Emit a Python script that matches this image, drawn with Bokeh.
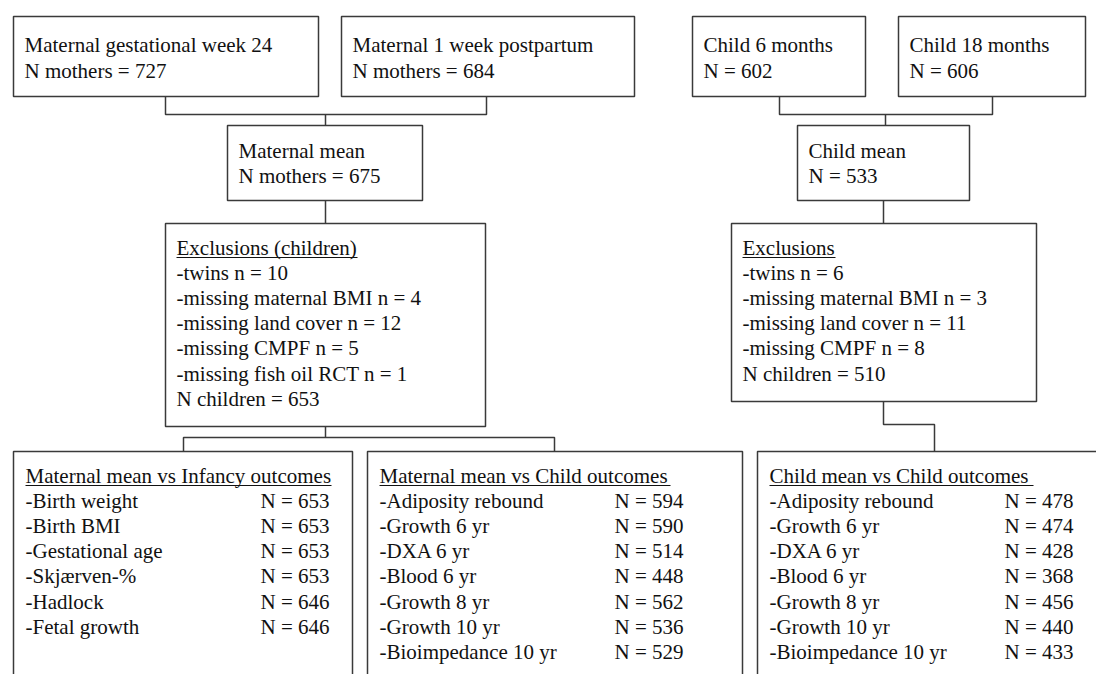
from bokeh.plotting import figure
from bokeh.models import Range1d
from bokeh.core.properties import value
from bokeh.embed import file_html
from bokeh.resources import INLINE

# ---------------- data ----------------
top_titles = ["Maternal gestational week 24", "Maternal 1 week postpartum", "Child 6 months", "Child 18 months"]
top_labels = ["N mothers", "N mothers", "N", "N"]
top_n = [727, 684, 602, 606]

mean_titles = ["Maternal mean", "Child mean"]
mean_labels = ["N mothers", "N"]
mean_n = [675, 533]

mat_excl_title = "Exclusions (children)"
mat_excl_items = ["twins", "missing maternal BMI", "missing land cover", "missing CMPF", "missing fish oil RCT"]
mat_excl_n = [10, 4, 12, 5, 1]
mat_children_n = 653

child_excl_title = "Exclusions"
child_excl_items = ["twins", "missing maternal BMI", "missing land cover", "missing CMPF"]
child_excl_n = [6, 3, 11, 8]
child_children_n = 510

out_titles = ["Maternal mean vs Infancy outcomes", "Maternal mean vs Child outcomes", "Child mean vs Child outcomes"]
infancy_outcomes = ["Birth weight", "Birth BMI", "Gestational age", "Skjærven-%", "Hadlock", "Fetal growth"]
infancy_n = [653, 653, 653, 653, 646, 646]
child_outcomes = ["Adiposity rebound", "Growth 6 yr", "DXA 6 yr", "Blood 6 yr", "Growth 8 yr", "Growth 10 yr", "Bioimpedance 10 yr"]
mat_child_n = [594, 590, 514, 448, 562, 536, 529]
child_child_n = [478, 474, 428, 368, 456, 440, 433]

# ---------------- layout (picture pixel coordinates) ----------------
FONT = value("Liberation Serif")
FS = "21px"
LINE_C = "#3a3a3a"
TXT_C = "#111111"
STEP = 25.2
PAD = 11
VALCOL = 247
TY = -7  # baseline correction for text placement

boxes = {
    "top0": (13, 16, 318, 96),
    "top1": (341, 16, 634, 96),
    "top2": (692, 16, 865, 96),
    "top3": (898, 16, 1085, 96),
    "mmean": (227, 125, 422, 200),
    "cmean": (797, 125, 969, 200),
    "mexcl": (165, 223, 485, 426),
    "cexcl": (731, 223, 1036, 401),
    "out0": (13, 451, 352, 700),
    "out1": (367, 451, 742, 700),
    "out2": (757, 451, 1110, 700),
}
underline_w = {"mexcl": 181, "cexcl": 93, "out0": 306, "out1": 291, "out2": 264}

p = figure(width=1096, height=674, output_backend="svg", toolbar_location=None,
           x_range=Range1d(0, 1096), y_range=Range1d(674, 0),
           min_border=0, outline_line_color=None, background_fill_color="white")
p.axis.visible = False
p.grid.visible = False

names = list(boxes)
p.quad(left=[boxes[n][0] for n in names], top=[boxes[n][1] for n in names],
       right=[boxes[n][2] for n in names], bottom=[boxes[n][3] for n in names],
       fill_color="white", line_color=LINE_C, line_width=1.5)

xs, ys = [], []
j1 = 114
a, b, c = 165, 486, 325
xs += [[a, a, b, b], [c, c]]
ys += [[96, j1, j1, 96], [j1, 125]]
a, b, c = 779, 992, 885
xs += [[a, a, b, b], [c, c]]
ys += [[96, j1, j1, 96], [j1, 125]]
xs += [[325, 325], [883, 883]]
ys += [[200, 223], [200, 223]]
xs += [[325, 325], [183, 183, 554, 554]]
ys += [[426, 437], [451, 437, 437, 451]]
xs += [[883, 883, 934, 934]]
ys += [[401, 424, 424, 451]]
p.multi_line(xs=xs, ys=ys, line_color=LINE_C, line_width=1.5)

tx, ty, tt = [], [], []
for i in range(4):
    b = boxes["top%d" % i]
    tx += [b[0] + PAD, b[0] + PAD]
    ty += [51 + TY, 77 + TY]
    tt += [top_titles[i], "%s = %d" % (top_labels[i], top_n[i])]
for name, t, l, n in zip(["mmean", "cmean"], mean_titles, mean_labels, mean_n):
    b = boxes[name]
    tx += [b[0] + PAD, b[0] + PAD]
    ty += [157 + TY, 182 + TY]
    tt += [t, "%s = %d" % (l, n)]
ux0, ux1, uy = [], [], []
for name, title, items, ns, nc in [("mexcl", mat_excl_title, mat_excl_items, mat_excl_n, mat_children_n),
                                   ("cexcl", child_excl_title, child_excl_items, child_excl_n, child_children_n)]:
    b = boxes[name]
    x0 = b[0] + PAD
    lines = [title] + ["-%s n = %d" % (it, n) for it, n in zip(items, ns)] + ["N children =  %d" % nc]
    for k, s in enumerate(lines):
        tx.append(x0)
        ty.append(254 + k * STEP + TY)
        tt.append(s)
    ux0.append(x0); ux1.append(x0 + underline_w[name]); uy.append(257)
vx, vy, vt = [], [], []
for name, title, items, ns in [("out0", out_titles[0], infancy_outcomes, infancy_n),
                               ("out1", out_titles[1], child_outcomes, mat_child_n),
                               ("out2", out_titles[2], child_outcomes, child_child_n)]:
    b = boxes[name]
    x0 = b[0] + PAD + 1
    tx.append(x0); ty.append(482 + TY); tt.append(title)
    ux0.append(x0); ux1.append(x0 + underline_w[name]); uy.append(485)
    for k, (it, n) in enumerate(zip(items, ns)):
        tx.append(x0); ty.append(482 + (k + 1) * STEP + TY); tt.append("-" + it)
        vx.append(b[0] + VALCOL); vy.append(482 + (k + 1) * STEP + TY); vt.append("N = %d" % n)

p.text(x=tx + vx, y=ty + vy, text=tt + vt, text_font=FONT, text_font_size=FS,
       text_color=TXT_C, text_align="left", text_baseline="alphabetic")
p.segment(x0=ux0, y0=uy, x1=ux1, y1=uy, line_color=TXT_C, line_width=1.2)

open("out.html", "w").write(file_html(p, INLINE))
